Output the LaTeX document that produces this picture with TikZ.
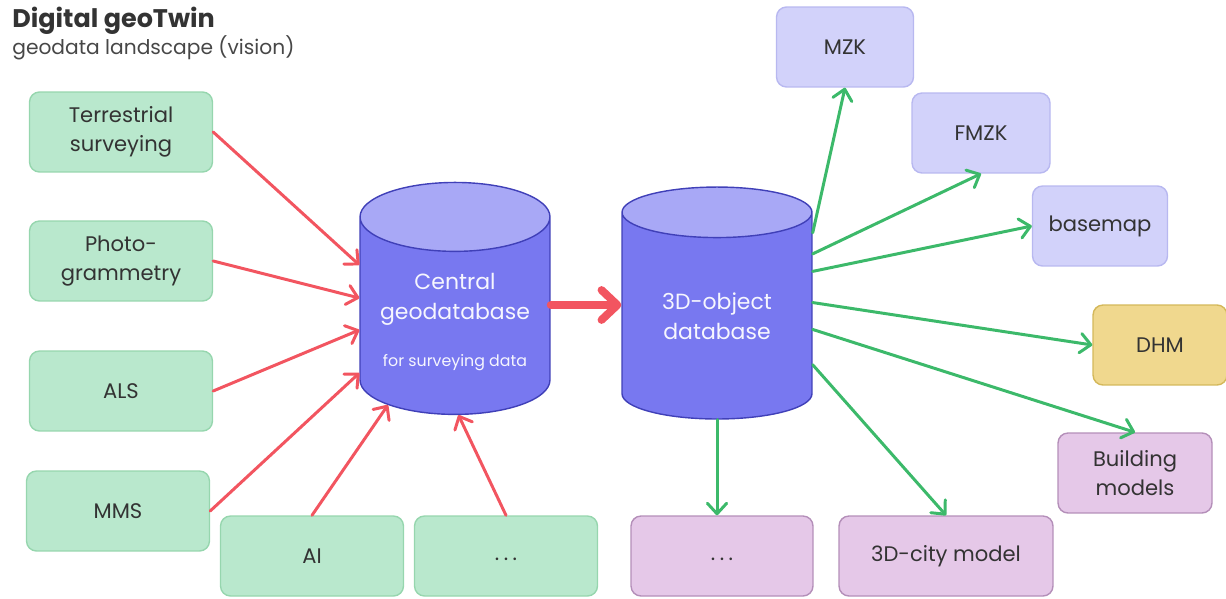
\documentclass[tikz,border=0pt]{standalone}
\usepackage{fontspec}
\setmainfont{Poppins}
\usetikzlibrary{shapes.geometric,arrows.meta,calc}
\definecolor{srcfill}{HTML}{B9E8CD}
\definecolor{srcline}{HTML}{96D6AE}
\definecolor{mapfill}{HTML}{D2D2FA}
\definecolor{mapline}{HTML}{B8B8F0}
\definecolor{modfill}{HTML}{E5C8E8}
\definecolor{modline}{HTML}{B48FB9}
\definecolor{dhmfill}{HTML}{F0D88E}
\definecolor{dhmline}{HTML}{D4B85A}
\definecolor{dbbody}{HTML}{7878F0}
\definecolor{dbtop}{HTML}{A8A8F6}
\definecolor{dbline}{HTML}{4040B8}
\definecolor{inred}{HTML}{F25560}
\definecolor{outgreen}{HTML}{3CB96A}
\definecolor{boxtext}{HTML}{333333}
\newcommand{\moredots}{\vphantom{Ag}.\hspace{2.5pt}.\hspace{2.5pt}.}
\tikzset{>={Straight Barb[round,length=6pt,width=11pt]}}
\tikzset{
  box/.style={rounded corners=0.2cm, line width=0.8pt, minimum height=1.6cm,
    align=center, text=boxtext, inner sep=0pt,
    font=\fontsize{12}{16.5}\selectfont},
  srcbox/.style={box, draw=srcline, fill=srcfill, minimum width=3.66cm},
  mapbox/.style={box, draw=mapline, fill=mapfill},
  modbox/.style={box, draw=modline, fill=modfill},
  dhmbox/.style={box, draw=dhmline, fill=dhmfill},
  db/.style={shape=cylinder, shape border rotate=90, aspect=0.46,
    draw=dbline, line width=0.8pt, cylinder uses custom fill,
    cylinder body fill=dbbody, cylinder end fill=dbtop,
    minimum width=3.8cm, minimum height=4.64cm, inner sep=0pt,
    align=center, text=white!90!dbtop, font=\fontsize{12.5}{17}\selectfont},
  inarrow/.style={->, inred, line width=1.7pt, line cap=round},
  outarrow/.style={->, outgreen, line width=1.7pt, line cap=round}
}

\begin{document}
\begin{tikzpicture}[x=0.02cm, y=-0.02cm]
    \useasboundingbox (0,0) rectangle (1226,598);
    % title
    \node[anchor=base west, inner sep=0pt, text=boxtext, font=\bfseries\fontsize{14.5}{18}\selectfont] (title) at (12,28) {Digital geoTwin};
    \node[anchor=base west, inner sep=0pt, text=boxtext!90, font=\fontsize{11.5}{14}\selectfont] (subtitle) at (12,55) {geodata landscape (vision)};

    % data sources
    \node[srcbox] (tsv) at (121,132) {Terrestrial\\surveying};
    \node[srcbox] (pgm) at (121,261) {Photo-\\grammetry};
    \node[srcbox] (als) at (121,391) {ALS};
    \node[srcbox] (mms) at (118,511) {MMS};
    \node[srcbox] (ai) at (312,556) {AI};
    \node[srcbox] (srcmore) at (506,556) {\moredots};

    % databases
    \node[db] (cdb) at (455,316) {\rule{0pt}{16pt}Central\\geodatabase\\[10pt]{\fontsize{9}{11}\selectfont for surveying data}};
    \node[db] (odb) at (717,316) {3D-object\\database};

    % products
    \node[mapbox, minimum width=2.74cm] (mzk) at (845,47) {MZK};
    \node[mapbox, minimum width=2.76cm] (fmzk) at (981,133) {FMZK};
    \node[mapbox, minimum width=2.7cm] (bmap) at (1100,226) {basemap};
    \node[dhmbox, minimum width=2.68cm] (dhm) at (1160,345) {DHM};
    \node[modbox, minimum width=3.08cm] (bld) at (1135,473) {Building\\models};
    \node[modbox, minimum width=4.28cm] (city) at (946,556) {3D-city model};
    \node[modbox, minimum width=3.64cm] (prodmore) at (722,556) {\moredots};

    % into the central geodatabase
    \draw[inarrow] (tsv.east) -- ($(cdb.west)+(0,-51)$);
    \draw[inarrow] (pgm.east) -- ($(cdb.west)+(0,-18)$);
    \draw[inarrow] (als.east) -- ($(cdb.west)+(0,14)$);
    \draw[inarrow] (mms.east) -- ($(cdb.west)+(0,57)$);
    \draw[inarrow] (ai.north) -- (cdb.233);
    \draw[inarrow] (srcmore.north) -- (cdb.272);
    \draw[-{Straight Barb[round,length=9pt,width=17pt]}, inred, line width=4.5pt, line cap=round] ($(cdb.east)+(0,-11)$) -- ($(odb.west)+(0,-11)$);

    % out of the 3D-object database
    \draw[outarrow] (odb.41) -- (mzk.south);
    \draw[outarrow] (odb.33) -- (fmzk.south);
    \draw[outarrow] (odb.25) -- (bmap.west);
    \draw[outarrow] (odb.8) -- (dhm.west);
    \draw[outarrow] (odb.352) -- (bld.north);
    \draw[outarrow] (odb.333) -- (city.north);
    \draw[outarrow] (odb.south) -- (odb.south |- prodmore.north);
\end{tikzpicture}
\end{document}
